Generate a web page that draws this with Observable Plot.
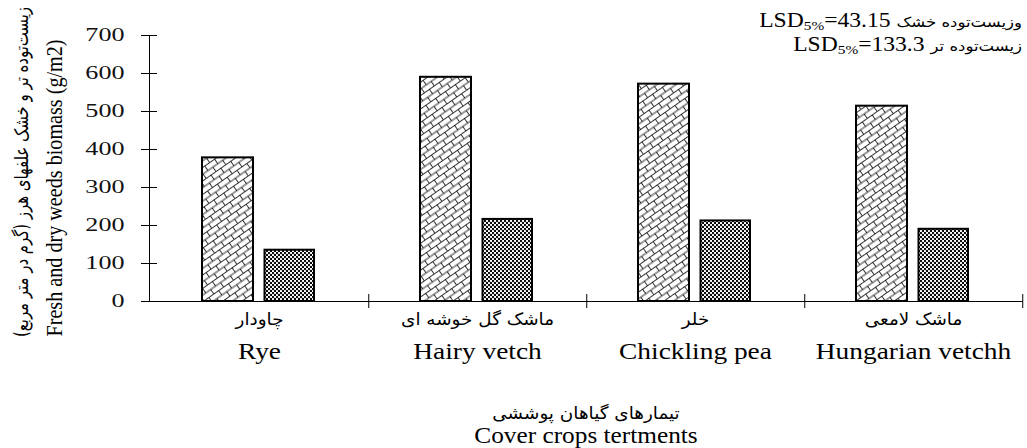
<!DOCTYPE html>
<html><head><meta charset="utf-8">
<script src="https://cdn.jsdelivr.net/npm/d3@7"></script>
<script src="https://cdn.jsdelivr.net/npm/@observablehq/plot@0.6"></script>
<style>
html,body{margin:0;padding:0;background:#fff;}
#chart svg{display:block;}
</style></head><body><div id="chart"></div>
<script>
const categories = ["Rye", "Hairy vetch", "Chickling pea", "Hungarian vetchh"];
const categoriesFa = ["چاودار", "ماشک گل خوشه ای", "خلر", "ماشک لامعی"];
const freshBiomass = [378, 590, 572, 514];
const dryBiomass = [135, 216, 212, 190];
const yTicks = [0, 100, 200, 300, 400, 500, 600, 700];
const lsdLabels = ["وزیست‌توده خشک", "زیست‌توده تر"];
const lsdValues = ["43.15", "133.3"];
const xTitleFa = "تیمارهای گیاهان پوششی";
const xTitleEn = "Cover crops tertments";
const yTitleFa = "زیست‌توده تر و خشک علفهای هرز (گرم در متر مربع)";
const yTitleEn = "Fresh and dry weeds biomass (g/m2)";

const fresh = categories.map((c, i) => ({cat: c, value: freshBiomass[i]}));
const dry = categories.map((c, i) => ({cat: c, value: dryBiomass[i]}));
const labels = categories.map((c, i) => ({cat: c, fa: categoriesFa[i]}));

const W = 1027, H = 448, mL = 149, mR = 4, mT = 35, mB = 147;
const step = (W - mL - mR) / categories.length;
const serif = "Liberation Serif";
const arabic = "DejaVu Sans";

function patterns() {
  const defs = d3.create("svg:defs");
  const b = defs.append("pattern").attr("id", "brick").attr("patternUnits", "userSpaceOnUse")
    .attr("width", 12).attr("height", 11).attr("patternTransform", "rotate(-35)");
  b.append("rect").attr("width", 12).attr("height", 11).attr("fill", "#fff");
  b.append("path").attr("d", "M0,0.5H12M0,6H12M0.5,0.5V6M6.5,6V11")
    .attr("stroke", "#000").attr("stroke-width", 0.8).attr("fill", "none");
  const d = defs.append("pattern").attr("id", "dots").attr("patternUnits", "userSpaceOnUse")
    .attr("width", 4).attr("height", 4);
  d.append("rect").attr("width", 4).attr("height", 4).attr("fill", "#fff");
  d.append("circle").attr("cx", 1).attr("cy", 1).attr("r", 1.15).attr("fill", "#000");
  d.append("circle").attr("cx", 3).attr("cy", 3).attr("r", 1.15).attr("fill", "#000");
  return defs.node();
}

const plot = Plot.plot({
  width: W, height: H, marginLeft: mL, marginRight: mR, marginTop: mT, marginBottom: mB,
  style: {fontFamily: serif, fontSize: "18px", color: "#000", background: "#fff"},
  x: {domain: categories, paddingInner: 0, paddingOuter: 0, axis: null},
  y: {domain: [0, 700], axis: null},
  marks: [
    patterns,
    Plot.barY(fresh, {x: "cat", y: "value", fill: "url(#brick)", stroke: "#000", strokeWidth: 2, insetLeft: 52, insetRight: 115}),
    Plot.barY(dry, {x: "cat", y: "value", fill: "url(#dots)", stroke: "#000", strokeWidth: 2, insetLeft: 114.5, insetRight: 54}),
    Plot.frame({anchor: "left", stroke: "#000"}),
    Plot.ruleY([0], {stroke: "#000"}),
    Plot.axisY(yTicks, {tickSize: 16, dx: 8, stroke: "#000", tickFormat: () => "", label: null}),
    Plot.axisY(yTicks, {tickSize: 0, tickPadding: 25, fontSize: 18, fontFamily: serif, fill: "#111", label: null}),
    Plot.axisX(categories, {tickSize: 14, dx: step / 2, dy: -7, stroke: "#000", tickFormat: () => "", label: null}),
    Plot.text(labels, {x: "cat", text: "fa", frameAnchor: "bottom", dy: 23, fontFamily: arabic, fontSize: 17, fill: "#000", className: "xfa"}),
    Plot.text(categories, {x: d => d, text: d => d, frameAnchor: "bottom", dy: 57, fontFamily: serif, fontSize: 23, fill: "#000", className: "xen"})
  ]
});
document.getElementById("chart").appendChild(plot);

const svg = d3.select(plot);
function stretch(sel, k) {
  sel.each(function () {
    const L = this.getComputedTextLength();
    if (L > 0) {
      this.setAttribute("textLength", L * k);
      this.setAttribute("lengthAdjust", "spacingAndGlyphs");
    }
  });
}
stretch(svg.selectAll("g[aria-label='y-axis tick label'] text"), 1.45);
stretch(svg.selectAll(".xen text"), 1.19);
stretch(svg.selectAll(".xfa text"), 1.08);

// LSD annotation
const lsdY = [27, 51];
lsdValues.forEach((v, i) => {
  const t = svg.append("text").attr("text-anchor", "end")
    .attr("transform", `translate(1022,${lsdY[i]}) scale(1.18,1)`)
    .attr("font-family", serif).attr("font-size", 20).attr("fill", "#000");
  t.append("tspan").text("LSD");
  t.append("tspan").attr("font-size", 13).attr("dy", 3).text("5%");
  t.append("tspan").attr("dy", -3).text("=" + v + " ");
  t.append("tspan").attr("font-family", arabic).attr("font-size", 14).text(lsdLabels[i]);
});

// bottom axis titles
const cx = mL + (W - mL - mR) / 2;
const tf = svg.append("text").attr("text-anchor", "middle").attr("x", cx).attr("y", 419)
  .attr("font-family", arabic).attr("font-size", 17).attr("fill", "#000").text(xTitleFa);
const te = svg.append("text").attr("text-anchor", "middle").attr("x", cx).attr("y", 443)
  .attr("font-family", serif).attr("font-size", 23).attr("fill", "#000").text(xTitleEn);
stretch(tf, 1.08);
stretch(te, 1.1);

// y axis titles (rotated)
const yf = svg.append("text").attr("text-anchor", "middle").attr("dominant-baseline", "central")
  .attr("transform", "translate(22,172) rotate(-90) scale(1,1.35)")
  .attr("font-family", arabic).attr("font-size", 14).attr("fill", "#000").text(yTitleFa);
const ye = svg.append("text").attr("text-anchor", "middle").attr("dominant-baseline", "central")
  .attr("transform", "translate(54,188) rotate(-90) scale(1,1.35)")
  .attr("font-family", serif).attr("font-size", 17).attr("fill", "#000").text(yTitleEn);
ye.attr("textLength", 297).attr("lengthAdjust", "spacingAndGlyphs");
yf.attr("textLength", 330).attr("lengthAdjust", "spacingAndGlyphs");
</script></body></html>
